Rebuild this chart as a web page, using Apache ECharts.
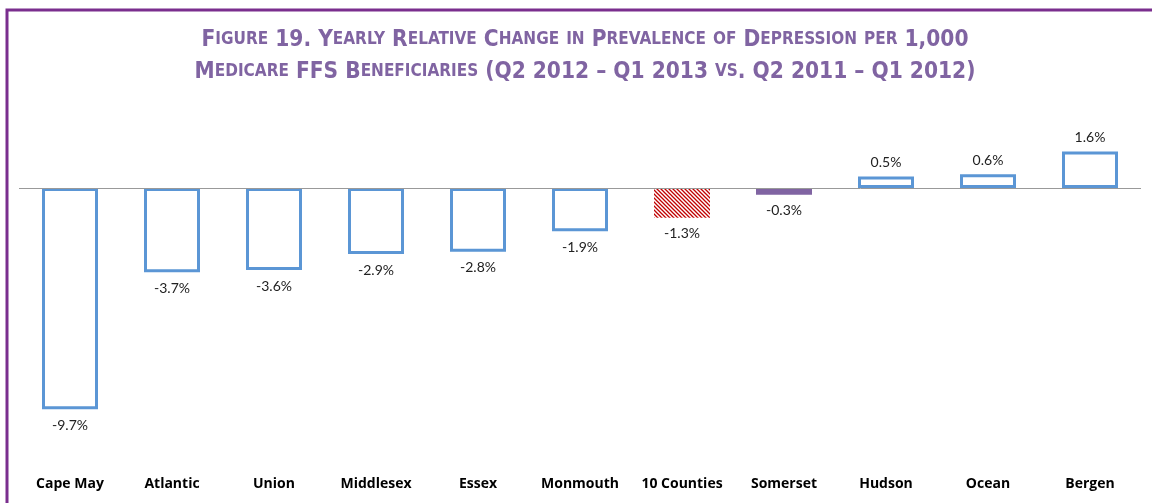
<!DOCTYPE html>
<html>
<head>
<meta charset="utf-8">
<script src="https://cdn.jsdelivr.net/npm/echarts@6/dist/echarts.min.js"></script>
<style>html,body{margin:0;padding:0;background:#fff;}#chart{width:1152px;height:503px;}</style>
</head>
<body>
<div id="chart"></div>
<script>
const categories = ['Cape May','Atlantic','Union','Middlesex','Essex','Monmouth','10 Counties','Somerset','Hudson','Ocean','Bergen'];
const values = [-9.7,-3.7,-3.6,-2.9,-2.8,-1.9,-1.3,-0.3,0.5,0.6,1.6];
const titleLine1 = 'Figure 19. Yearly Relative Change in Prevalence of Depression per 1,000';
const titleLine2 = 'Medicare FFS Beneficiaries (Q2 2012 \u2013 Q1 2013 vs. Q2 2011 \u2013 Q1 2012)';
const highlightAll = '10 Counties';
const highlightPurple = 'Somerset';

function smallCaps(s){
  let out = '', cur = null, buf = '';
  for (const ch of s){
    const isLower = ch !== ch.toUpperCase();
    const style = isLower ? 'b' : 'a';
    const c = isLower ? ch.toUpperCase() : ch;
    if (style !== cur){ if (buf) out += '{' + cur + '|' + buf + '}'; buf = ''; cur = style; }
    buf += c;
  }
  if (buf) out += '{' + cur + '|' + buf + '}';
  return out;
}

const pc = document.createElement('canvas');
pc.width = 4; pc.height = 4;
const ctx = pc.getContext('2d');
ctx.fillStyle = '#ffffff'; ctx.fillRect(0,0,4,4);
ctx.strokeStyle = '#C00000'; ctx.lineWidth = 1.3;
ctx.beginPath();
ctx.moveTo(-1,-1); ctx.lineTo(5,5);
ctx.moveTo(-1,3); ctx.lineTo(1,5);
ctx.moveTo(3,-1); ctx.lineTo(5,1);
ctx.stroke();

const chart = echarts.init(document.getElementById('chart'));
const data = values.map((v,i) => {
  const item = {value: v, label: {position: v < 0 ? 'bottom' : 'top', distance: v < 0 ? 9 : 7}};
  if (categories[i] === highlightAll){
    item.itemStyle = {color: {image: pc, repeat: 'repeat'}, borderWidth: 0};
  } else if (categories[i] === highlightPurple){
    item.itemStyle = {color: '#8064A2', borderColor: '#8064A2', borderWidth: 2};
  }
  return item;
});

const titleFont = '"DejaVu Sans Condensed", sans-serif';
chart.setOption({
  animation: false,
  title: {
    text: smallCaps(titleLine1) + '\n' + smallCaps(titleLine2),
    left: 580, top: 19, textAlign: 'center',
    textStyle: {
      rich: {
        a: {fontFamily: titleFont, fontWeight: 'bold', fontSize: 22.5, color: '#8064A2', lineHeight: 32},
        b: {fontFamily: titleFont, fontWeight: 'bold', fontSize: 17, color: '#8064A2', lineHeight: 32}
      }
    }
  },
  graphic: [{
    type: 'rect', silent: true,
    shape: {x: 7, y: 10, width: 2500, height: 1500},
    style: {fill: 'none', stroke: '#7A2E8E', lineWidth: 3}
  }],
  grid: {left: 19, right: 11, top: 142.4, bottom: 87},
  xAxis: {
    type: 'category', data: categories,
    axisLine: {show: false}, axisTick: {show: false},
    axisLabel: {interval: 0, margin: 61, fontFamily: '"Open Sans", Lato, sans-serif', fontWeight: 'bold', fontSize: 14, color: '#000'}
  },
  yAxis: {type: 'value', min: -10, max: 2, show: false, splitLine: {show: false}},
  series: [{
    type: 'bar', data: data, barWidth: 56,
    itemStyle: {color: '#ffffff', borderColor: '#5B96D5', borderWidth: 3},
    label: {show: true, fontFamily: 'Lato, "Open Sans", sans-serif', fontSize: 14, color: '#222',
      formatter: p => p.value.toFixed(1) + '%'},
    markLine: {
      silent: true, symbol: 'none', label: {show: false},
      lineStyle: {color: '#999', width: 1, type: 'solid'},
      data: [{yAxis: 0}]
    }
  }]
});
</script>
</body>
</html>
